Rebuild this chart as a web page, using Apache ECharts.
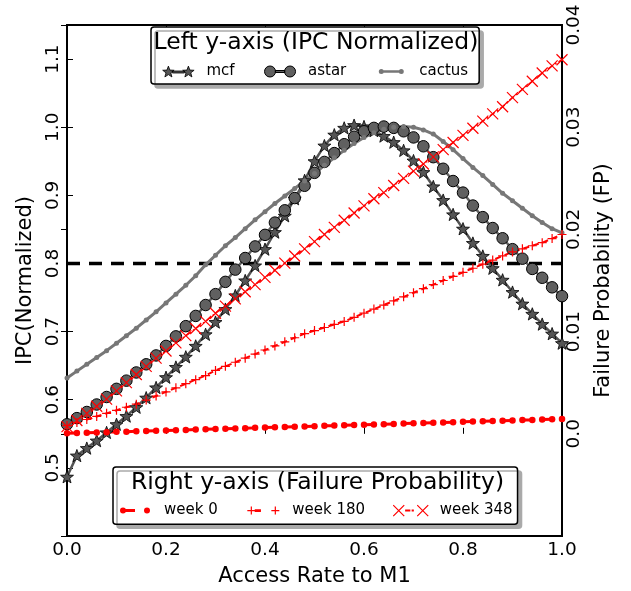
<!DOCTYPE html>
<html>
<head>
<meta charset="utf-8">
<script src="https://cdn.jsdelivr.net/npm/echarts@6/dist/echarts.min.js"></script>
<style>
  html, body { margin: 0; padding: 0; background: #fff; }
  #chart { width: 631px; height: 591px; }
</style>
</head>
<body>
<div id="chart"></div>
<script>
// x values (access rate to M1)
const accessRate = [0, 0.02, 0.04, 0.06, 0.08, 0.1, 0.12, 0.14, 0.16, 0.18,
  0.2, 0.22, 0.24, 0.26, 0.28, 0.3, 0.32, 0.34, 0.36, 0.38,
  0.4, 0.42, 0.44, 0.46, 0.48, 0.5, 0.52, 0.54, 0.56, 0.58,
  0.6, 0.62, 0.64, 0.66, 0.68, 0.7, 0.72, 0.74, 0.76, 0.78,
  0.8, 0.82, 0.84, 0.86, 0.88, 0.9, 0.92, 0.94, 0.96, 0.98, 1.0]

// left axis: normalized IPC
const mcf = [0.487, 0.518, 0.529, 0.540, 0.552, 0.564, 0.576, 0.589, 0.603, 0.618,
  0.633, 0.648, 0.663, 0.679, 0.696, 0.714, 0.733, 0.753, 0.775, 0.797,
  0.821, 0.846, 0.870, 0.895, 0.922, 0.950, 0.973, 0.989, 0.999, 1.003,
  1.001, 0.995, 0.987, 0.978, 0.966, 0.951, 0.934, 0.913, 0.893, 0.872,
  0.851, 0.830, 0.811, 0.793, 0.776, 0.758, 0.741, 0.726, 0.711, 0.697, 0.683]
const astar = [0.564, 0.573, 0.582, 0.593, 0.604, 0.616, 0.628, 0.640, 0.652, 0.665,
  0.679, 0.693, 0.708, 0.723, 0.739, 0.755, 0.773, 0.791, 0.808, 0.825,
  0.842, 0.860, 0.878, 0.896, 0.914, 0.933, 0.949, 0.962, 0.975, 0.986,
  0.994, 0.999, 1.001, 0.999, 0.994, 0.985, 0.972, 0.956, 0.939, 0.921,
  0.904, 0.885, 0.868, 0.852, 0.837, 0.821, 0.807, 0.792, 0.779, 0.765, 0.752]
const cactus = [0.632, 0.642, 0.652, 0.662, 0.672, 0.683, 0.694, 0.705, 0.717, 0.729,
  0.742, 0.755, 0.768, 0.782, 0.798, 0.812, 0.826, 0.838, 0.851, 0.864,
  0.876, 0.888, 0.899, 0.910, 0.921, 0.932, 0.944, 0.955, 0.966, 0.976,
  0.985, 0.992, 0.997, 1.000, 1.001, 1.000, 0.996, 0.990, 0.979, 0.967,
  0.954, 0.941, 0.929, 0.916, 0.903, 0.892, 0.881, 0.870, 0.860, 0.851, 0.845]
const threshold = 0.8

// right axis: failure probability
const week0 = [0.00005, 0.00008, 0.0001, 0.00013, 0.00016, 0.00019, 0.00021, 0.00024, 0.00027, 0.0003,
  0.00033, 0.00035, 0.00038, 0.00041, 0.00044, 0.00047, 0.0005, 0.00052, 0.00055, 0.00058,
  0.00061, 0.00064, 0.00066, 0.00069, 0.00072, 0.00075, 0.00078, 0.0008, 0.00083, 0.00086,
  0.00089, 0.00092, 0.00094, 0.00097, 0.001, 0.00103, 0.00106, 0.00108, 0.00111, 0.00114,
  0.00117, 0.0012, 0.00122, 0.00125, 0.00128, 0.00131, 0.00134, 0.00136, 0.00139, 0.00142, 0.00145]
const week180 = [0.0008, 0.0011, 0.0014, 0.0017, 0.0020, 0.0023, 0.0026, 0.0029, 0.0033, 0.0037,
  0.0041, 0.0045, 0.0049, 0.0053, 0.0057, 0.0062, 0.0066, 0.0070, 0.0074, 0.0078,
  0.0082, 0.0086, 0.0090, 0.0094, 0.0098, 0.0101, 0.0104, 0.0107, 0.0110, 0.0114,
  0.0118, 0.0122, 0.0126, 0.0130, 0.0134, 0.0138, 0.0142, 0.0146, 0.0150, 0.0154,
  0.0158, 0.0162, 0.0166, 0.0170, 0.0174, 0.0178, 0.0181, 0.0184, 0.0187, 0.0191, 0.0195]
const week348 = [0.0007, 0.0013, 0.0020, 0.0027, 0.0034, 0.0042, 0.0050, 0.0058, 0.0066, 0.0074,
  0.0081, 0.0089, 0.0096, 0.0103, 0.0110, 0.0118, 0.0125, 0.0132, 0.0139, 0.0146,
  0.0153, 0.0160, 0.0167, 0.0174, 0.0181, 0.0188, 0.0195, 0.0202, 0.0209, 0.0216,
  0.0223, 0.0230, 0.0236, 0.0243, 0.0250, 0.0257, 0.0264, 0.0271, 0.0278, 0.0285,
  0.0292, 0.0299, 0.0306, 0.0313, 0.0320, 0.0329, 0.0337, 0.0345, 0.0353, 0.0360, 0.0366]

// tick labels
const xTicks = [0, 0.2, 0.4, 0.6, 0.8, 1.0]
const xTickLabels = ['0.0', '0.2', '0.4', '0.6', '0.8', '1.0']
const ipcTicks = [0.5, 0.6, 0.7, 0.8, 0.9, 1.0, 1.1]
const ipcTickLabels = ['0.5', '0.6', '0.7', '0.8', '0.9', '1.0', '1.1']
const fpTicks = [0, 0.01, 0.02, 0.03, 0.04]
const fpTickLabels = ['0.0', '0.01', '0.02', '0.03', '0.04']

const FONT = 'DejaVu Sans'
const RED = '#ff0000'

const STAR = 'path://M0,-6L1.47,-2.02L5.71,-1.85L2.38,0.77L3.53,4.85L0,2.5L-3.53,4.85L-2.38,0.77L-5.71,-1.85L-1.47,-2.02Z'
const PLUS = 'path://M0,5L10,5M5,0L5,10'
const CROSS = 'path://M0,0L10,10M10,0L0,10'

// legend icons: two markers joined by a line, like the matplotlib handles
const ICON_MCF = 'path://M0,0M40,14' +
  'M7,1.6L8.47,5.58L12.71,5.75L9.38,8.37L10.53,12.45L7,10.1L3.47,12.45L4.62,8.37L1.29,5.75L5.53,5.58Z' +
  'M27,1.6L28.47,5.58L32.71,5.75L29.38,8.37L30.53,12.45L27,10.1L23.47,12.45L24.62,8.37L21.29,5.75L25.53,5.58Z' +
  'M11,6.5L23,6.5L23,8.5L11,8.5Z'
const ICON_ASTAR = 'path://M0,0M40,14' +
  'M1.5,7A5.5,5.5,0,1,1,12.5,7A5.5,5.5,0,1,1,1.5,7Z' +
  'M21.5,7A5.5,5.5,0,1,1,32.5,7A5.5,5.5,0,1,1,21.5,7Z' +
  'M12.3,6L21.7,6L21.7,8L12.3,8Z'
const ICON_CACTUS = 'path://M0,0M40,14' +
  'M4.5,7A2.5,2.5,0,1,1,9.5,7A2.5,2.5,0,1,1,4.5,7Z' +
  'M24.5,7A2.5,2.5,0,1,1,29.5,7A2.5,2.5,0,1,1,24.5,7Z' +
  'M9.3,5.75L24.7,5.75L24.7,8.25L9.3,8.25Z'
const ICON_W0 = 'path://M0,0M42,14' +
  'M3,7A3,3,0,1,1,9,7A3,3,0,1,1,3,7Z' +
  'M27,7A3,3,0,1,1,33,7A3,3,0,1,1,27,7Z' +
  'M8.8,5.5L18,5.5L18,8.5L8.8,8.5Z'
const ICON_W180 = 'path://M0,0M42,14' +
  'M2,7L10,7M6,3L6,11M26,7L34,7M30,3L30,11' +
  'M10,6.3L15,6.3L15,7.7L10,7.7Z'
const ICON_W348 = 'path://M0,0M42,14' +
  'M0.5,1.5L11.5,12.5M11.5,1.5L0.5,12.5M24.5,1.5L35.5,12.5M35.5,1.5L24.5,12.5' +
  'M13,6.6L17,6.6L17,7.4L13,7.4Z M19.5,6.6L20.5,6.6L20.5,7.4L19.5,7.4Z'

function tickFormatter(ticks, labels) {
  return (v) => {
    const i = ticks.findIndex(t => Math.abs(t - v) < 1e-9)
    return i < 0 ? '' : labels[i]
  }
}

const pairs = (ys) => accessRate.map((x, i) => [x, ys[i]])

const tickStyle = { show: true, inside: true, length: 6, lineStyle: { color: '#000', width: 1 } }
const labelStyle = { color: '#000', fontFamily: FONT, fontSize: 18.5 }
const nameStyle = { color: '#000', fontFamily: FONT, fontSize: 21 }
const legendBox = {
  orient: 'horizontal',
  itemHeight: 14,
  backgroundColor: '#fff',
  borderColor: '#000',
  borderWidth: 1.5,
  borderRadius: 3,
  shadowColor: '#aaaaaa',
  shadowBlur: 0,
  shadowOffsetX: 4,
  shadowOffsetY: 4,
  selectedMode: false,
  symbolKeepAspect: false,
  textStyle: { color: '#000', fontFamily: FONT, fontSize: 15 },
}

const chart = echarts.init(document.getElementById('chart'))

chart.setOption({
  animation: false,
  backgroundColor: '#fff',
  grid: {
    left: 67, right: 69, top: 25, bottom: 55,
    show: true, borderColor: '#000', borderWidth: 2,
    containLabel: false, outerBoundsMode: 'none',
  },
  xAxis: [
    {
      type: 'value', position: 'bottom', min: 0, max: 1, interval: 0.2,
      axisLine: { show: false }, splitLine: { show: false },
      axisTick: tickStyle,
      axisLabel: { ...labelStyle, margin: 5, formatter: tickFormatter(xTicks, xTickLabels) },
      name: 'Access Rate to M1', nameLocation: 'middle', nameGap: 30,
      nameMoveOverlap: false, nameTextStyle: nameStyle,
    },
    {
      type: 'value', position: 'top', min: 0, max: 1, interval: 0.2,
      axisLine: { show: false }, splitLine: { show: false },
      axisTick: tickStyle, axisLabel: { show: false },
    },
  ],
  yAxis: [
    {
      type: 'value', position: 'left', min: 0.4, max: 1.15, interval: 0.1,
      axisLine: { show: false }, splitLine: { show: false },
      axisTick: tickStyle,
      axisLabel: { ...labelStyle, rotate: 90, margin: 4, formatter: tickFormatter(ipcTicks, ipcTickLabels) },
      name: 'IPC(Normalized)', nameLocation: 'middle', nameRotate: 90, nameGap: 31,
      nameMoveOverlap: false, nameTextStyle: nameStyle,
    },
    {
      type: 'value', position: 'right', min: -0.01, max: 0.04, interval: 0.01,
      axisLine: { show: false }, splitLine: { show: false },
      axisTick: tickStyle,
      axisLabel: { ...labelStyle, rotate: 90, margin: 3, formatter: tickFormatter(fpTicks, fpTickLabels) },
      name: 'Failure Probability (FP)', nameLocation: 'middle', nameRotate: 90, nameGap: 31,
      nameMoveOverlap: false, nameTextStyle: nameStyle,
    },
  ],
  legend: [
    {
      ...legendBox,
      left: 151, top: 27, itemWidth: 40, itemGap: 28,
      padding: [37, 11, 5, 10],
      data: [
        { name: 'mcf', icon: ICON_MCF, itemStyle: { color: '#555555', borderColor: '#000', borderWidth: 0.8 } },
        { name: 'astar', icon: ICON_ASTAR, itemStyle: { color: '#606060', borderColor: '#000', borderWidth: 1 } },
        { name: 'cactus', icon: ICON_CACTUS, itemStyle: { color: '#777777', borderWidth: 0 } },
      ],
    },
    {
      ...legendBox,
      left: 113, top: 467, itemWidth: 42, itemGap: 27,
      padding: [36, 5, 6, 4],
      data: [
        { name: 'week 0', icon: ICON_W0, itemStyle: { color: RED, borderWidth: 0 } },
        { name: 'week 180', icon: ICON_W180, itemStyle: { color: RED, borderColor: RED, borderWidth: 1.2 } },
        { name: 'week 348', icon: ICON_W348, itemStyle: { color: RED, borderColor: RED, borderWidth: 1.2 } },
      ],
    },
  ],
  graphic: [
    {
      type: 'text', x: 316, y: 43, z: 100,
      style: { text: 'Left y-axis (IPC Normalized)', fill: '#000', fontFamily: FONT, fontSize: 23.5, align: 'center', verticalAlign: 'middle' },
    },
    {
      type: 'text', x: 317.5, y: 483, z: 100,
      style: { text: 'Right y-axis (Failure Probability)', fill: '#000', fontFamily: FONT, fontSize: 23.5, align: 'center', verticalAlign: 'middle' },
    },
  ],
  series: [
    {
      name: 'threshold', type: 'line', silent: true,
      data: [[accessRate[0], threshold], [accessRate[accessRate.length - 1], threshold]],
      symbol: 'none',
      lineStyle: { color: '#000', width: 3.5, type: [13, 9] },
    },
    {
      name: 'mcf', type: 'line', data: pairs(mcf),
      symbol: STAR, symbolSize: 13, symbolKeepAspect: true,
      itemStyle: { color: '#555555', borderColor: '#000', borderWidth: 0.8 },
      lineStyle: { color: '#555555', width: 2.5 },
    },
    {
      name: 'astar', type: 'line', data: pairs(astar),
      symbol: 'circle', symbolSize: 11.5,
      itemStyle: { color: '#606060', borderColor: '#000', borderWidth: 1 },
      lineStyle: { color: '#606060', width: 2.5 },
    },
    {
      name: 'cactus', type: 'line', data: pairs(cactus),
      symbol: 'circle', symbolSize: 5,
      itemStyle: { color: '#777777', borderWidth: 0 },
      lineStyle: { color: '#777777', width: 3 },
    },
    {
      name: 'week 0', type: 'line', yAxisIndex: 1, data: pairs(week0),
      symbol: 'circle', symbolSize: 6.5,
      itemStyle: { color: RED, borderWidth: 0 },
      lineStyle: { color: RED, width: 3, type: [9.9, 9.9] },
    },
    {
      name: 'week 180', type: 'line', yAxisIndex: 1, data: pairs(week180),
      symbol: PLUS, symbolSize: 9,
      itemStyle: { color: RED, borderColor: RED, borderWidth: 1.2 },
      lineStyle: { color: RED, width: 2, type: [6, 4] },
    },
    {
      name: 'week 348', type: 'line', yAxisIndex: 1, data: pairs(week348),
      symbol: CROSS, symbolSize: 11,
      itemStyle: { color: RED, borderColor: RED, borderWidth: 1.2 },
      lineStyle: { color: RED, width: 1.5, type: [6, 2.5, 1.5, 2.5] },
    },
  ],
})

window.addEventListener('resize', () => chart.resize())
</script>
</body>
</html>
